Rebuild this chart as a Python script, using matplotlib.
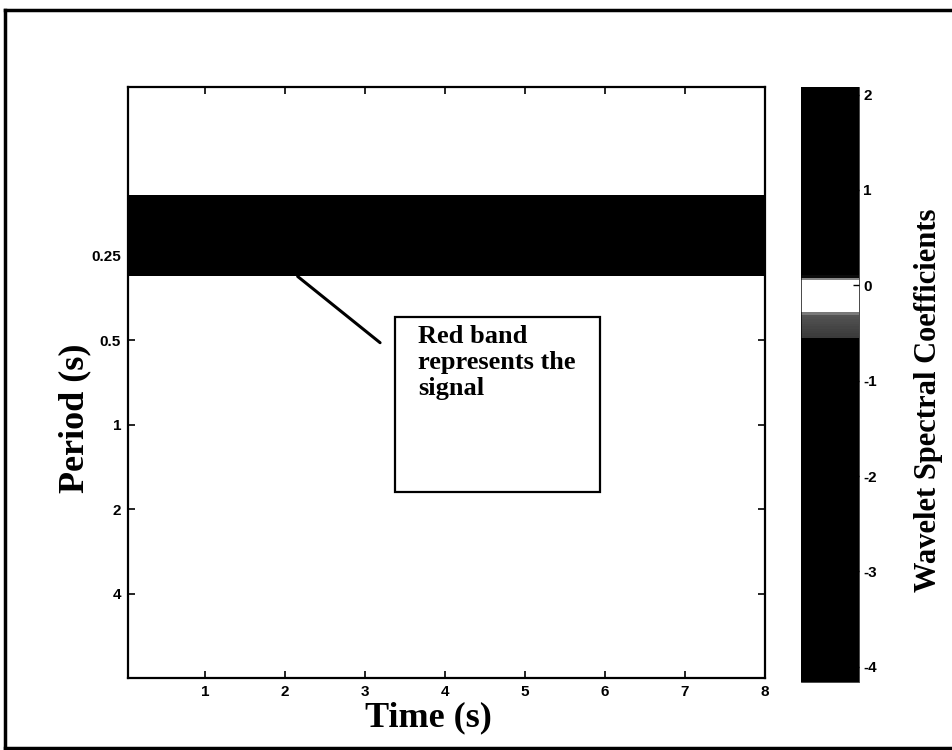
import numpy as np
import matplotlib
matplotlib.use("Agg")
import matplotlib.pyplot as plt
from matplotlib.colors import LinearSegmentedColormap
from matplotlib.patches import Rectangle
from matplotlib.lines import Line2D

# time / period grid of the wavelet map
time_edges = [0.04, 8.0]
period_edges = [1 / 16, 0.152, 0.296, 8.0]
coeff = [[0.0], [1.9], [0.0]]

period_ticks = [0.25, 0.5, 1, 2, 4]
period_labels = ["0.25", "0.5", "1", "2", "4"]
time_ticks = [1, 2, 3, 4, 5, 6, 7, 8]
cbar_ticks = [2, 1, 0, -1, -2, -3, -4]
cbar_labels = ["2", "1", "0", "-1", "-2", "-3", "-4"]
vmin, vmax = -4.16, 2.08

# grayscale version of the spectral colormap
def pos(v):
    return (v - vmin) / (vmax - vmin)

cmap = LinearSegmentedColormap.from_list("gray_spec", [
    (0.0, "black"),
    (pos(-0.56), "black"),
    (pos(-0.54), "#3a3a3a"),
    (pos(-0.30), "#555555"),
    (pos(-0.27), "white"),
    (pos(0.05), "white"),
    (pos(0.07), "#999999"),
    (pos(0.10), "black"),
    (1.0, "black"),
])

plt.rcParams["font.family"] = ["Liberation Serif", "DejaVu Serif"]

fig = plt.figure(figsize=(9.53, 7.5), dpi=100)
W, H = 953, 750

def fbox(x0, y0, x1, y1):
    return [x0 / W, 1 - y1 / H, (x1 - x0) / W, (y1 - y0) / H]

ax = fig.add_axes(fbox(128, 87, 765, 678))
cax = fig.add_axes(fbox(801, 87, 859, 682))

mesh = ax.pcolormesh(time_edges, period_edges, coeff, cmap=cmap,
                     vmin=vmin, vmax=vmax, shading="flat")
ax.set_yscale("log", base=2)
ax.set_ylim(8, 1 / 16)
ax.set_xlim(time_edges[0], time_edges[-1])
ax.set_yticks(period_ticks)
ax.set_yticklabels(period_labels)
ax.yaxis.set_minor_locator(matplotlib.ticker.NullLocator())
ax.set_xticks(time_ticks)
ax.tick_params(direction="in", length=5, width=1.2, top=True, right=True,
               labelsize=11, pad=5)
for lab in ax.get_xticklabels() + ax.get_yticklabels():
    lab.set_fontfamily("Liberation Sans")
    lab.set_fontweight("bold")
for s in ax.spines.values():
    s.set_linewidth(1.6)

ax.set_xlabel("Time (s)", fontsize=26, fontweight="bold")
ax.xaxis.set_label_coords(0.471, -0.040)
ax.set_ylabel("Period (s)", fontsize=26, fontweight="bold")
ax.yaxis.set_label_coords(-0.058, 0.44)

# callout for the signal band
ax.annotate("", xy=(2.16, 0.296), xytext=(3.19, 0.51),
            arrowprops=dict(arrowstyle="-", lw=2.2, color="black",
                            shrinkA=0, shrinkB=0))
ax.add_patch(Rectangle((0.419, 0.315), 0.322, 0.296, transform=ax.transAxes,
                       fill=False, lw=1.6, ec="black", zorder=5))
ax.text(0.455, 0.597, "Red band\nrepresents the\nsignal", transform=ax.transAxes,
        ha="left", va="top", fontsize=19, fontweight="bold",
        linespacing=1.15, zorder=6)

cb = fig.colorbar(mesh, cax=cax, ticks=cbar_ticks)
cb.set_ticklabels(cbar_labels)
cb.outline.set_linewidth(0.5)
cax.tick_params(direction="in", length=4, width=1, labelsize=11, pad=3)
for lab in cax.get_yticklabels():
    lab.set_fontfamily("Liberation Sans")
    lab.set_fontweight("bold")
cb.set_label("Wavelet Spectral Coefficients", fontsize=22, fontweight="bold")
cax.yaxis.set_label_coords(1.95, 0.474)

# page frame
frame_kw = dict(transform=fig.transFigure, color="black", lw=2.5)
fig.add_artist(Line2D([5 / W, 5 / W], [1 - 10 / H, 1 - 748 / H], **frame_kw))
fig.add_artist(Line2D([5 / W, 1.0], [1 - 10 / H, 1 - 10 / H], **frame_kw))
fig.add_artist(Line2D([5 / W, 1.0], [1 - 748 / H, 1 - 748 / H], **frame_kw))

fig.savefig("out.png", dpi=100)
